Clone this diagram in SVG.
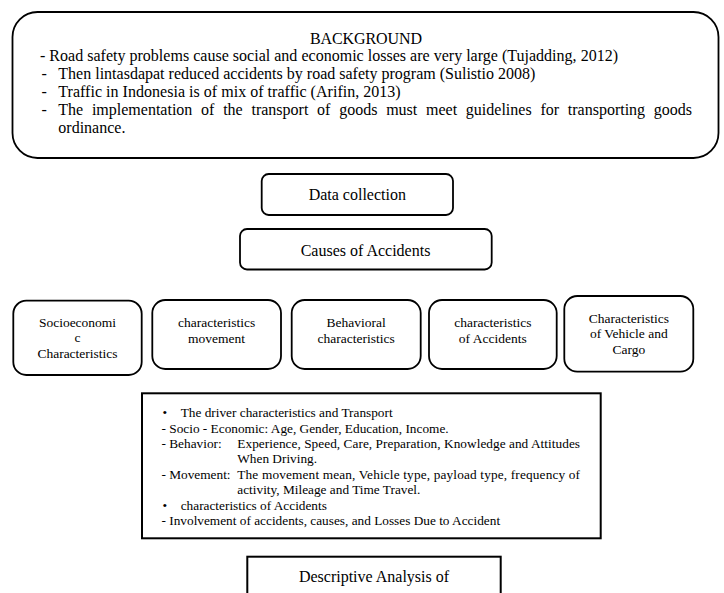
<svg xmlns="http://www.w3.org/2000/svg" width="724" height="593" viewBox="0 0 724 593" font-family="'Liberation Serif', Tinos, 'Times New Roman', 'DejaVu Serif', serif">
<style>
.bx{fill:#fff;stroke:#000;stroke-width:1.8}
.sq{fill:#fff;stroke:#000;stroke-width:2}
text{font-family:'Liberation Serif',Tinos,'Times New Roman','DejaVu Serif',serif;fill:#000}
.t16{font-size:16px}
.t135{font-size:13.5px}
.t133{font-size:13.3px}
.c{text-anchor:middle}
</style>
<rect width="724" height="593" fill="#fff"/>
<g id="background">
<rect class="bx" x="12.5" y="12" width="706" height="146" rx="25" ry="25"/>
<text class="t16 c" x="366" y="44" textLength="112">BACKGROUND</text>
<text class="t16" x="40" y="61" textLength="578">- Road safety problems cause social and economic losses are very large (Tujadding, 2012)</text>
<text class="t16" x="41.5" y="79">-</text>
<text class="t16" x="58.3" y="79" textLength="477">Then lintasdapat reduced accidents by road safety program (Sulistio 2008)</text>
<text class="t16" x="41.5" y="97">-</text>
<text class="t16" x="58.3" y="97" textLength="342.4">Traffic in Indonesia is of mix of traffic (Arifin, 2013)</text>
<text class="t16" x="41.5" y="115">-</text>
<text class="t16" x="58.3" y="115" word-spacing="4.75">The implementation of the transport of goods must meet guidelines for transporting goods</text>
<text class="t16" x="58.3" y="133">ordinance.</text>
</g>
<g id="data-collection">
<rect class="bx" x="261.7" y="174" width="191.3" height="41" rx="7" ry="7"/>
<text class="t16 c" x="357.3" y="200">Data collection</text>
</g>
<g id="causes">
<rect class="bx" x="240" y="229" width="251.7" height="40.5" rx="7" ry="7"/>
<text class="t16 c" x="365.5" y="256">Causes of Accidents</text>
</g>
<g id="socioeconomic">
<rect class="bx" x="13.3" y="300.7" width="128.4" height="74.3" rx="13" ry="13"/>
<text class="t135 c" x="77.5" y="327">Socioeconomi</text>
<text class="t135 c" x="77.5" y="342.3">c</text>
<text class="t135 c" x="77.5" y="357.6">Characteristics</text>
</g>
<g id="movement">
<rect class="bx" x="152.3" y="300" width="128.7" height="69" rx="13" ry="13"/>
<text class="t135 c" x="216.6" y="327">characteristics</text>
<text class="t135 c" x="216.6" y="342.5">movement</text>
</g>
<g id="behavioral">
<rect class="bx" x="291.7" y="300" width="129" height="69" rx="13" ry="13"/>
<text class="t135 c" x="356.2" y="327">Behavioral</text>
<text class="t135 c" x="356.2" y="342.5">characteristics</text>
</g>
<g id="accidents">
<rect class="bx" x="429" y="300" width="127.7" height="69" rx="13" ry="13"/>
<text class="t135 c" x="492.8" y="327">characteristics</text>
<text class="t135 c" x="492.8" y="342.5">of Accidents</text>
</g>
<g id="vehicle">
<rect class="bx" x="564.3" y="296" width="129" height="75.7" rx="13" ry="13"/>
<text class="t135 c" x="628.8" y="322.7">Characteristics</text>
<text class="t135 c" x="628.8" y="338.3">of Vehicle and</text>
<text class="t135 c" x="628.8" y="354">Cargo</text>
</g>
<g id="details">
<rect class="sq" x="142" y="393.3" width="458.7" height="145"/>
<text class="t133" x="162.5" y="417">•</text>
<text class="t133" x="180.7" y="417">The driver characteristics and Transport</text>
<text class="t133" x="161.5" y="433">- Socio - Economic: Age, Gender, Education, Income.</text>
<text class="t133" x="161.5" y="448">- Behavior:</text>
<text class="t133" x="237.3" y="448" textLength="342.7">Experience, Speed, Care, Preparation, Knowledge and Attitudes</text>
<text class="t133" x="237.3" y="462.5">When Driving.</text>
<text class="t133" x="161.5" y="479">- Movement:</text>
<text class="t133" x="237.3" y="479" textLength="342.7">The movement mean, Vehicle type, payload type, frequency of</text>
<text class="t133" x="237.3" y="493.5">activity, Mileage and Time Travel.</text>
<text class="t133" x="162.5" y="509.5">•</text>
<text class="t133" x="180.7" y="509.5">characteristics of Accidents</text>
<text class="t133" x="161.5" y="525">- Involvement of accidents, causes, and Losses Due to Accident</text>
</g>
<g id="descriptive">
<rect class="sq" x="247.3" y="556.7" width="253.4" height="50"/>
<text class="t16 c" x="374" y="582">Descriptive Analysis of</text>
</g>
<g id="connectors"></g>
</svg>
